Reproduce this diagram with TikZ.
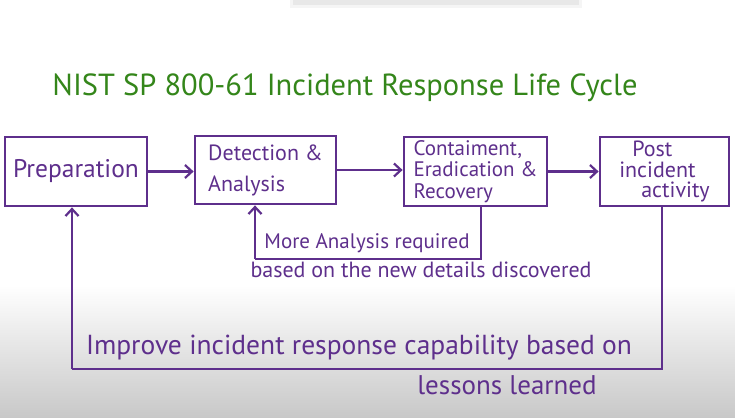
\documentclass[tikz,border=0pt]{standalone}
\usepackage{fontspec}
\setmainfont{PT Sans}
\usetikzlibrary{arrows.meta}
\definecolor{pen}{RGB}{94,47,140}
\definecolor{ink}{RGB}{52,134,26}
\definecolor{bgbot}{RGB}{200,200,200}
\tikzset{
  stagebox/.style={draw=pen, line width=2.8pt, inner sep=0pt, text=pen},
  flow/.style={draw=pen, line width=2.8pt, -{Straight Barb[length=7pt,width=13pt,line width=2.2pt]}},
  loopline/.style={draw=pen, line width=2.8pt},
  note/.style={text=pen, inner sep=0pt, font=\fontsize{21}{23}\selectfont},
}
\begin{document}
\begin{tikzpicture}[x=1pt,y=-1pt]
\useasboundingbox (0,0) rectangle (735,417);
\fill[white] (0,0) rectangle (735,417);
\shade[top color=white, bottom color=bgbot] (0,285) rectangle (735,418);
\fill[black, opacity=0.04] (290,0) rectangle (582,8);
\fill[black, opacity=0.05] (293,0) rectangle (579,5);

% title
\node[text=ink, inner sep=0pt, font=\fontsize{30.5}{33}\selectfont] (title) at (345,88) {NIST SP 800-61 Incident Response Life Cycle};

% stages
\node[stagebox, minimum width=142pt, minimum height=69pt, font=\fontsize{25.5}{28}\selectfont] (prep) at (76,171.5) {Preparation};
\node[stagebox, minimum width=141pt, minimum height=68pt, align=left, font=\fontsize{22}{31}\selectfont] (det) at (265.5,170) {Detection \&\\Analysis};
\node[stagebox, minimum width=143pt, minimum height=69pt, align=left, font=\fontsize{21}{21.5}\selectfont] (cont) at (475.5,171.5) {Contaiment,\\Eradication \&\\Recovery};
\node[stagebox, minimum width=129pt, minimum height=69pt, align=left, font=\fontsize{22}{20.5}\selectfont] (post) at (664.5,171.5) {\hspace*{13pt}Post\\incident\\\hspace*{22pt}activity};

% forward flow
\draw[flow] (prep.east) -- (prep.east -| det.west);
\draw[flow] (det.east) -- (det.east -| cont.west);
\draw[flow] (cont.east) -- (cont.east -| post.west);

% more analysis loop
\coordinate (m1) at (481,259);
\coordinate (m2) at (255,259);
\draw[loopline] (cont.south -| m1) -- (m1) -- (m2);
\draw[flow] (m2) -- (m2 |- det.south);
\node[note] (more) at (367,243) {More Analysis required};
\node[note, font=\fontsize{22}{24}\selectfont] (based) at (421,270) {based on the new details discovered};

% improvement loop
\coordinate (l1) at (662,369);
\coordinate (l2) at (72,369);
\draw[loopline] (post.south -| l1) -- (l1) -- (l2);
\draw[flow] (l2) -- (l2 |- prep.south);
\node[note, font=\fontsize{27.5}{30}\selectfont] (improve) at (359,348) {Improve incident response capability based on};
\node[note, font=\fontsize{27}{30}\selectfont] (lessons) at (507,385) {lessons learned};
\end{tikzpicture}
\end{document}
